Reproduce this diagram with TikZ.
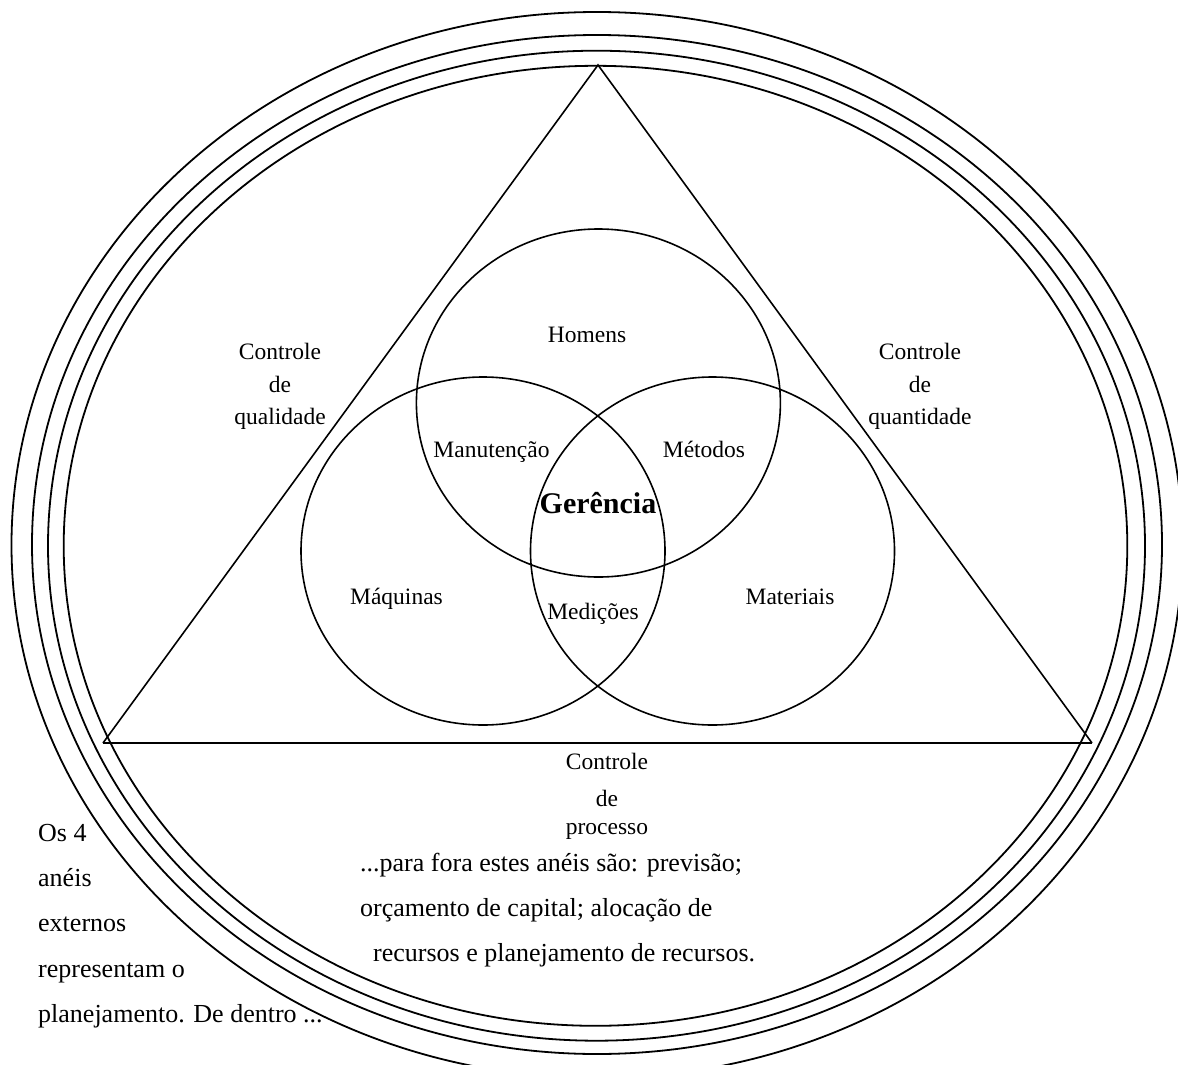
\documentclass[tikz,border=0pt]{standalone}
\usepackage{fontspec}
\setmainfont{Liberation Serif}
\begin{document}
\begin{tikzpicture}[x=1pt,y=-1pt,
  ring/.style={line width=1.8pt},
  venn/.style={line width=1.6pt},
  lbl/.style={inner sep=0pt, align=center, font=\fontsize{23.5}{32.5}\selectfont},
  boss/.style={inner sep=0pt, font=\fontsize{30}{32}\selectfont\bfseries},
  note/.style={inner sep=0pt, align=left, font=\fontsize{26}{45.2}\selectfont}]
\useasboundingbox (0,0) rectangle (1178,1065);
\clip (0,0) rectangle (1178,1065);

% four planning rings
\draw[ring] (595.5,545.8) ellipse [x radius=531.8, y radius=480];
\draw[ring] (596.5,545.7) ellipse [x radius=548.5, y radius=495];
\draw[ring] (597,544.5) ellipse [x radius=565, y radius=509.5];
\draw[ring] (597,545) ellipse [x radius=585.5, y radius=533];

% control triangle
\coordinate (apex) at (598,65);
\coordinate (bl) at (103,743);
\coordinate (br) at (1092,743);
\draw[line width=1.6pt] (bl) -- (apex) -- (br);
\draw[line width=2.4pt] (bl) -- (br);

% the three M circles
\draw[venn] (598.4,403) ellipse [x radius=182, y radius=174];
\draw[venn] (483,551) ellipse [x radius=182, y radius=174];
\draw[venn] (712.5,551) ellipse [x radius=182, y radius=174];

% labels inside the circles
\node[lbl, anchor=base] (homens) at (587,342.5) {Homens};
\node[lbl, anchor=base] (manut) at (491.5,457) {Manutenção};
\node[lbl, anchor=base] (metodos) at (704,457) {Métodos};
\node[boss, anchor=base] (gerencia) at (598,513.5) {Gerência};
\node[lbl, anchor=base] (maquinas) at (396.5,604.5) {Máquinas};
\node[lbl, anchor=base] (medicoes) at (593,619.5) {Medições};
\node[lbl, anchor=base] (materiais) at (790,604.5) {Materiais};

% the three controls
\node[lbl, anchor=north] (cqual) at (280,343) {Controle\\de\\qualidade};
\node[lbl, anchor=north] (cquant) at (920,343) {Controle\\de\\quantidade};
\node[lbl, anchor=north] (cproc) at (607,753) {Controle\\[4.5pt]de\\[-5pt]processo};

% notes on the rings
\node[note, anchor=north west] (notea) at (38,824) {Os 4\\anéis\\externos\\representam o\\planejamento. De dentro ...};
\node[note, anchor=north west] (noteb) at (360,853) {...para fora estes anéis são: previsão;\\orçamento de capital; alocação de\\\hspace*{13pt}recursos e planejamento de recursos.};
\end{tikzpicture}
\end{document}
